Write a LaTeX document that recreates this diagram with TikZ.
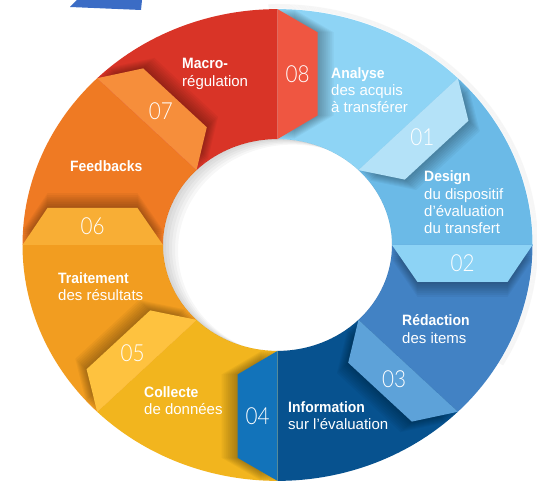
\documentclass[tikz,border=0pt]{standalone}
\usepackage{fontspec}
\setmainfont{Liberation Sans}[BoldFeatures={FakeStretch=0.93}]
\newfontfamily\numfont{Lato Light}[FakeStretch=0.88]
\definecolor{s1}{HTML}{8ED4F5}
\definecolor{s2}{HTML}{6BBAE7}
\definecolor{s3}{HTML}{4282C4}
\definecolor{s4}{HTML}{07528F}
\definecolor{s5}{HTML}{F2B51E}
\definecolor{s6}{HTML}{F29D20}
\definecolor{s7}{HTML}{EF7A23}
\definecolor{s8}{HTML}{D93427}
\definecolor{t1}{HTML}{B4E2F8}
\definecolor{t2}{HTML}{8DD3F5}
\definecolor{t3}{HTML}{5DA2D9}
\definecolor{t4}{HTML}{1273BA}
\definecolor{t5}{HTML}{FEC23F}
\definecolor{t6}{HTML}{F8AE35}
\definecolor{t7}{HTML}{F68E3B}
\definecolor{t8}{HTML}{EF5641}
\definecolor{topblue}{HTML}{3B6CC5}
\begin{document}
\begin{tikzpicture}[x=1pt,y=1pt,
  lbl/.style={text=white, anchor=west, align=left, inner sep=0pt, font=\fontsize{15}{17.3}\selectfont},
  num/.style={text=white, inner sep=0pt, font=\numfont\fontsize{23.5}{23.5}\selectfont},
  tabshadow/.style={black, opacity=0.04}]
\useasboundingbox (0,0) rectangle (537,481);
\fill[white] (0,0) rectangle (537,481);
\fill[topblue] (70,474) -- (77,481) -- (142,481) -- (141,471) -- cycle;
\begin{scope}[shift={(277.5,236)}, yscale=0.925]
  % outer soft shadow
  \foreach \k in {1,...,5}
    \draw[black, opacity=0.03, line width=1pt] (92:255+\k) arc[start angle=92, end angle=-30, radius=255+\k];
  % segments
  \foreach \i/\a [evaluate=\a as \b using \a-45] in {1/90,2/45,3/0,4/-45,5/-90,6/-135,7/-180,8/-225} {
    \fill[s\i] (\a:255) arc[start angle=\a, end angle=\b, radius=255]
      -- (\b:114.5) arc[start angle=\b, end angle=\a, radius=114.5] -- cycle;
  }
  % inner shadow of the hole
  \begin{scope}
    \clip (0,0) circle[radius=114.5];
    \foreach \k in {3,6,9,12,15}
      \fill[black, opacity=0.03, even odd rule] (0,0) circle[radius=114.5] (\k,-0.4*\k) circle[radius=114.5];
  \end{scope}
  % tabs
  \foreach \i/\t in {1/45,2/0,3/-45,4/-90,5/-135,6/-180,7/-225,8/-270} {
    \begin{scope}[rotate=\t]
      \begin{scope}
        \clip (0,0) circle[radius=255];
        \foreach \k in {2,4,...,16}
          \fill[tabshadow] (255,-\k) -- (230,-40-\k) -- (140,-40-\k) -- (114.5,-\k) -- cycle;
      \end{scope}
      \fill[t\i] (255,0) -- (230,-40) -- (140,-40) -- (114.5,0) -- cycle;
      \node[num] (n\i) at (185,-20) {0\i};
    \end{scope}
  }
\end{scope}
\node[lbl] (l8) at (182,407) {\textbf{Macro-}\\régulation};
\node[lbl] (l7) at (70,315) {\textbf{Feedbacks}};
\node[lbl] (l6) at (58,194.5) {\textbf{Traitement}\\des résultats};
\node[lbl] (l5) at (144,80.5) {\textbf{Collecte}\\de données};
\node[lbl] (l4) at (288,65.5) {\textbf{Information}\\sur l’évaluation};
\node[lbl] (l3) at (402,152) {\textbf{Rédaction}\\des items};
\node[lbl] (l2) at (424,278.5) {\textbf{Design}\\du dispositif\\d’évaluation\\du transfert};
\node[lbl] (l1) at (331,391) {\textbf{Analyse}\\des acquis\\à transférer};
\end{tikzpicture}
\end{document}
